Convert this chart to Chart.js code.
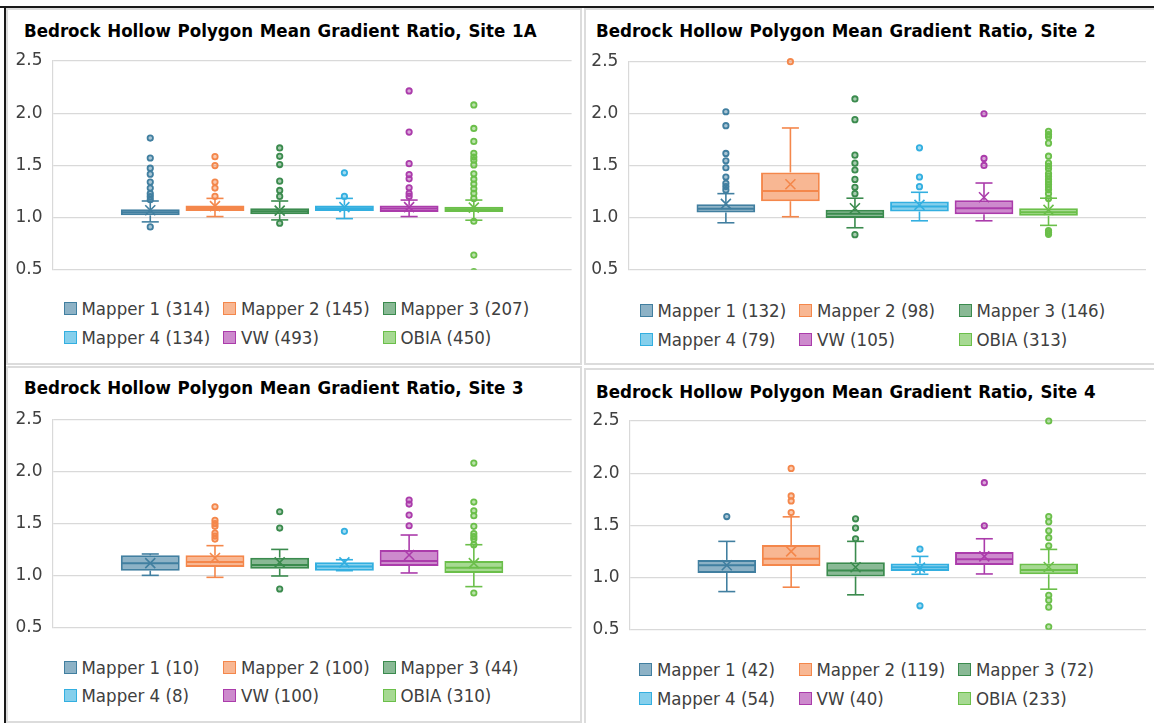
<!DOCTYPE html>
<html>
<head>
<meta charset="utf-8">
<script src="https://cdn.jsdelivr.net/npm/chart.js@4.4.1/dist/chart.umd.min.js"></script>
<style>
  html, body { margin: 0; padding: 0; background: #fff; }
  body { width: 1154px; height: 723px; position: relative; overflow: hidden; }
  .frameTop { position: absolute; left: 0; top: 6px; width: 1154px; height: 2px; background: #1a1a1a; }
  .frameLeft { position: absolute; left: 4px; top: 6px; width: 2px; height: 717px; background: #1a1a1a; }
  .panel { position: absolute; box-sizing: border-box; border: 2px solid #dcdcdc; background: #fff; }
  canvas { position: absolute; }
  .title { position: absolute; white-space: nowrap; line-height: 1; color: #000; word-spacing: 1px;
           font-family: "DejaVu Sans Condensed", "DejaVu Sans", sans-serif; font-size: 18.5px; font-weight: bold; }
  .legend { position: absolute; display: grid; grid-template-columns: 159.5px 159.5px 159.5px; grid-auto-rows: 28.6px;
            font-family: "DejaVu Sans Condensed", "DejaVu Sans", sans-serif; font-size: 18.5px; color: #404040; }
  .item { display: flex; align-items: center; white-space: nowrap; }
  .sw { width: 13px; height: 13px; box-sizing: border-box; border: 1.6px solid; margin-right: 5px; flex: none; }
</style>
</head>
<body>
<div class="panel" style="left:6px; top:8px; width:576px; height:357px;"></div>
<div class="panel" style="left:584px; top:8px; width:580px; height:357px;"></div>
<div class="panel" style="left:6px; top:366px; width:576px; height:357px;"></div>
<div class="panel" style="left:584px; top:368px; width:580px; height:360px;"></div>
<div class="frameTop"></div>
<div class="frameLeft"></div>

<div class="title" id="t1" style="left:24px; top:22.3px;"></div>
<div class="title" id="t2" style="left:596px; top:22.3px;"></div>
<div class="title" id="t3" style="left:24px; top:379px;"></div>
<div class="title" id="t4" style="left:596px; top:383.3px;"></div>

<canvas id="c1" width="572" height="280" style="left:8px; top:10px;"></canvas>
<canvas id="c2" width="568" height="280" style="left:586px; top:10px;"></canvas>
<canvas id="c3" width="572" height="280" style="left:8px; top:368px;"></canvas>
<canvas id="c4" width="568" height="280" style="left:586px; top:370px;"></canvas>

<div class="legend" id="l1" style="left:63.5px; top:294.5px;"></div>
<div class="legend" id="l2" style="left:639.5px; top:296.3px;"></div>
<div class="legend" id="l3" style="left:63.5px; top:653px;"></div>
<div class="legend" id="l4" style="left:639px; top:655.7px;"></div>

<script>
// Series shown in every panel
const seriesNames = ['Mapper 1', 'Mapper 2', 'Mapper 3', 'Mapper 4', 'VW', 'OBIA'];

// Y axis ticks (gradient ratio)
const yTicks = [0.5, 1.0, 1.5, 2.0, 2.5];

// ---- Site 1A ----
const site1A_count  = [314, 145, 207, 134, 493, 450];
const site1A_q1     = [1.022, 1.063, 1.032, 1.063, 1.054, 1.054];
const site1A_median = [1.051, 1.092, 1.060, 1.090, 1.086, 1.079];
const site1A_q3     = [1.079, 1.117, 1.089, 1.117, 1.117, 1.105];
const site1A_low    = [0.959, 1.010, 0.978, 0.990, 1.010, 0.975];
const site1A_high   = [1.159, 1.184, 1.159, 1.184, 1.168, 1.168];
const site1A_mean   = [1.070, 1.110, 1.067, 1.100, 1.100, 1.095];
const site1A_outliers = [
  [1.762, 1.571, 1.473, 1.416, 1.340, 1.283, 1.229, 1.200, 1.171, 0.911],
  [1.584, 1.498, 1.340, 1.283, 1.203],
  [1.667, 1.587, 1.508, 1.349, 1.260, 1.203, 0.946],
  [1.429, 1.203],
  [2.213, 1.819, 1.517, 1.413, 1.371, 1.286, 1.232, 1.203],
  [2.079, 1.854, 1.730, 1.616, 1.580, 1.550, 1.505, 1.419, 1.368, 1.321, 1.276, 1.232, 1.184, 0.965, 0.641, 0.483]
];

// ---- Site 2 ----
const site2_count  = [132, 98, 146, 79, 105, 313];
const site2_q1     = [1.051, 1.159, 0.997, 1.060, 1.035, 1.019];
const site2_median = [1.086, 1.258, 1.038, 1.108, 1.092, 1.054];
const site2_q3     = [1.131, 1.436, 1.076, 1.156, 1.169, 1.092];
const site2_low    = [0.952, 1.010, 0.904, 0.971, 0.971, 0.927];
const site2_high   = [1.232, 1.863, 1.188, 1.245, 1.334, 1.188];
const site2_mean   = [1.134, 1.322, 1.092, 1.124, 1.197, 1.076];
const site2_outliers = [
  [2.019, 1.885, 1.618, 1.548, 1.481, 1.392, 1.331, 1.300, 1.268],
  [2.500],
  [2.142, 1.943, 1.602, 1.525, 1.459, 1.369, 1.293, 1.232, 0.838],
  [1.672, 1.392, 1.299],
  [2.000, 1.570, 1.503],
  [1.831, 1.800, 1.777, 1.717, 1.592, 1.525, 1.495, 1.471, 1.424, 1.400, 1.369, 1.345, 1.322, 1.295, 1.271, 1.232, 1.185, 0.876, 0.858, 0.841]
];

// ---- Site 3 ----
const site3_count  = [10, 100, 44, 8, 100, 310];
const site3_q1     = [1.048, 1.083, 1.067, 1.048, 1.093, 1.026];
const site3_median = [1.118, 1.131, 1.102, 1.089, 1.141, 1.077];
const site3_q3     = [1.195, 1.195, 1.173, 1.128, 1.246, 1.141];
const site3_low    = [1.003, 0.984, 0.997, 1.048, 1.026, 0.895];
const site3_high   = [1.208, 1.288, 1.252, 1.153, 1.390, 1.297];
const site3_mean   = [1.121, 1.169, 1.128, 1.128, 1.198, 1.121];
const site3_outliers = [
  [],
  [1.661, 1.530, 1.500, 1.473, 1.409, 1.380, 1.351],
  [1.613, 1.457, 0.872],
  [1.425],
  [1.725, 1.687, 1.581, 1.479],
  [2.080, 1.706, 1.623, 1.575, 1.473, 1.403, 1.375, 1.351, 1.297, 0.834]
];

// ---- Site 4 ----
const site4_count  = [42, 119, 72, 54, 40, 233];
const site4_q1     = [1.045, 1.111, 1.010, 1.064, 1.121, 1.032];
const site4_median = [1.118, 1.181, 1.067, 1.099, 1.175, 1.073];
const site4_q3     = [1.169, 1.312, 1.146, 1.134, 1.245, 1.134];
const site4_low    = [0.866, 0.908, 0.835, 1.032, 1.035, 0.889];
const site4_high   = [1.347, 1.582, 1.347, 1.203, 1.372, 1.270];
const site4_mean   = [1.118, 1.251, 1.099, 1.095, 1.203, 1.102];
const site4_outliers = [
  [1.585],
  [2.046, 1.782, 1.734, 1.623],
  [1.563, 1.474, 1.372],
  [1.273, 0.730],
  [1.909, 1.496],
  [2.500, 1.585, 1.534, 1.448, 1.382, 1.305, 0.831, 0.784, 0.717, 0.529]
];

// Series colours: outline and translucent fill
const strokeColors = ['#417fa0', '#f4874b', '#3b8b4e', '#33afe0', '#ab3cab', '#6bbf4a'];
const fillAlpha = 0.6;
function fillOf(hex, a) {
  const n = parseInt(hex.slice(1), 16);
  return 'rgba(' + (n >> 16) + ',' + ((n >> 8) & 255) + ',' + (n & 255) + ',' + a + ')';
}

const TICK_FONT = '"DejaVu Sans", sans-serif';

// Whiskers, medians, means and outlier points, placed from the bar elements and the y scale
const boxExtras = {
  id: 'boxExtras',
  beforeDatasetsDraw(chart) {
    const ctx = chart.ctx, y = chart.scales.y;
    chart.data.datasets.forEach((ds, i) => {
      const el = chart.getDatasetMeta(i).data[0];
      if (!el) return;
      const x = el.x, cap = el.width * 0.29;
      ctx.save();
      ctx.strokeStyle = ds.borderColor;
      ctx.lineWidth = 1.6;
      const seg = (a, b) => {
        ctx.beginPath(); ctx.moveTo(x, y.getPixelForValue(a)); ctx.lineTo(x, y.getPixelForValue(b)); ctx.stroke();
      };
      const capLine = (v) => {
        const py = y.getPixelForValue(v);
        ctx.beginPath(); ctx.moveTo(x - cap / 2, py); ctx.lineTo(x + cap / 2, py); ctx.stroke();
      };
      seg(ds.stats.q3, ds.stats.high); capLine(ds.stats.high);
      seg(ds.stats.q1, ds.stats.low); capLine(ds.stats.low);
      ctx.restore();
    });
  },
  afterDatasetsDraw(chart) {
    const ctx = chart.ctx, y = chart.scales.y, area = chart.chartArea;
    chart.data.datasets.forEach((ds, i) => {
      const el = chart.getDatasetMeta(i).data[0];
      if (!el) return;
      const x = el.x, half = el.width / 2;
      ctx.save();
      ctx.strokeStyle = ds.borderColor;
      // median line
      ctx.lineWidth = 2;
      const my = y.getPixelForValue(ds.stats.median);
      ctx.beginPath(); ctx.moveTo(x - half + 1, my); ctx.lineTo(x + half - 1, my); ctx.stroke();
      // mean marker
      const ay = y.getPixelForValue(ds.stats.mean), s = 5;
      ctx.lineWidth = 1.6;
      ctx.beginPath();
      ctx.moveTo(x - s, ay - s); ctx.lineTo(x + s, ay + s);
      ctx.moveTo(x + s, ay - s); ctx.lineTo(x - s, ay + s);
      ctx.stroke();
      // outliers (cut off below the axis minimum)
      ctx.beginPath();
      ctx.rect(area.left, area.top - 12, area.right - area.left, area.bottom - area.top + 12);
      ctx.clip();
      ctx.lineWidth = 1.8;
      ctx.fillStyle = fillOf(ds.borderColor, 0.45);
      ds.stats.outliers.forEach(v => {
        const py = y.getPixelForValue(v);
        ctx.beginPath(); ctx.arc(x, py, 2.7, 0, Math.PI * 2);
        ctx.fill(); ctx.stroke();
      });
      ctx.restore();
    });
  }
};

function makePanel(cfg) {
  document.getElementById(cfg.titleId).textContent = cfg.title;

  const datasets = seriesNames.map((name, i) => ({
    label: name + ' (' + cfg.count[i] + ')',
    data: [[cfg.q1[i], cfg.q3[i]]],
    backgroundColor: fillOf(strokeColors[i], fillAlpha),
    borderColor: strokeColors[i],
    borderWidth: 2,
    borderSkipped: false,
    categoryPercentage: 0.748,
    barPercentage: 0.91,
    stats: {
      q1: cfg.q1[i], q3: cfg.q3[i], median: cfg.median[i], mean: cfg.mean[i],
      low: cfg.low[i], high: cfg.high[i], outliers: cfg.outliers[i]
    }
  }));

  new Chart(document.getElementById(cfg.canvas), {
    type: 'bar',
    data: { labels: [''], datasets },
    options: {
      responsive: false,
      animation: false,
      devicePixelRatio: 1,
      layout: { padding: cfg.pad },
      plugins: {
        legend: { display: false },
        tooltip: { enabled: false },
        title: { display: false }
      },
      scales: {
        x: { display: false },
        y: {
          min: yTicks[0],
          max: yTicks[yTicks.length - 1],
          afterBuildTicks(scale) { scale.ticks = yTicks.map(v => ({ value: v })); },
          afterFit(scale) { scale.width = cfg.axisWidth; },
          grid: { color: '#d9d9d9', lineWidth: 1.2, drawTicks: false },
          border: { display: true, color: '#d9d9d9', width: 1.2 },
          ticks: {
            padding: 10,
            color: '#404040',
            font: { family: TICK_FONT, size: 17 },
            callback: v => Number(v).toFixed(1)
          }
        }
      }
    },
    plugins: [boxExtras]
  });

  // legend: three columns, two rows
  const box = document.getElementById(cfg.legend);
  seriesNames.forEach((name, i) => {
    const item = document.createElement('div');
    item.className = 'item';
    const sw = document.createElement('span');
    sw.className = 'sw';
    sw.style.background = fillOf(strokeColors[i], fillAlpha);
    sw.style.borderColor = strokeColors[i];
    const tx = document.createElement('span');
    tx.textContent = name + ' (' + cfg.count[i] + ')';
    item.appendChild(sw); item.appendChild(tx);
    box.appendChild(item);
  });
}

makePanel({
  canvas: 'c1', legend: 'l1', titleId: 't1', title: 'Bedrock Hollow Polygon Mean Gradient Ratio, Site 1A',
  count: site1A_count, q1: site1A_q1, median: site1A_median, q3: site1A_q3,
  low: site1A_low, high: site1A_high, mean: site1A_mean, outliers: site1A_outliers,
  pad: { left: 0, right: 8.4, top: 51, bottom: 19.3 }, axisWidth: 44.5
});
makePanel({
  canvas: 'c2', legend: 'l2', titleId: 't2', title: 'Bedrock Hollow Polygon Mean Gradient Ratio, Site 2',
  count: site2_count, q1: site2_q1, median: site2_median, q3: site2_q3,
  low: site2_low, high: site2_high, mean: site2_mean, outliers: site2_outliers,
  pad: { left: 0, right: 8, top: 51.7, bottom: 18.3 }, axisWidth: 42.4
});
makePanel({
  canvas: 'c3', legend: 'l3', titleId: 't3', title: 'Bedrock Hollow Polygon Mean Gradient Ratio, Site 3',
  count: site3_count, q1: site3_q1, median: site3_median, q3: site3_q3,
  low: site3_low, high: site3_high, mean: site3_mean, outliers: site3_outliers,
  pad: { left: 0, right: 8.4, top: 51.3, bottom: 19.7 }, axisWidth: 44.5
});
makePanel({
  canvas: 'c4', legend: 'l4', titleId: 't4', title: 'Bedrock Hollow Polygon Mean Gradient Ratio, Site 4',
  count: site4_count, q1: site4_q1, median: site4_median, q3: site4_q3,
  low: site4_low, high: site4_high, mean: site4_mean, outliers: site4_outliers,
  pad: { left: 0, right: 8, top: 51, bottom: 19.3 }, axisWidth: 43.5
});
</script>
</body>
</html>
